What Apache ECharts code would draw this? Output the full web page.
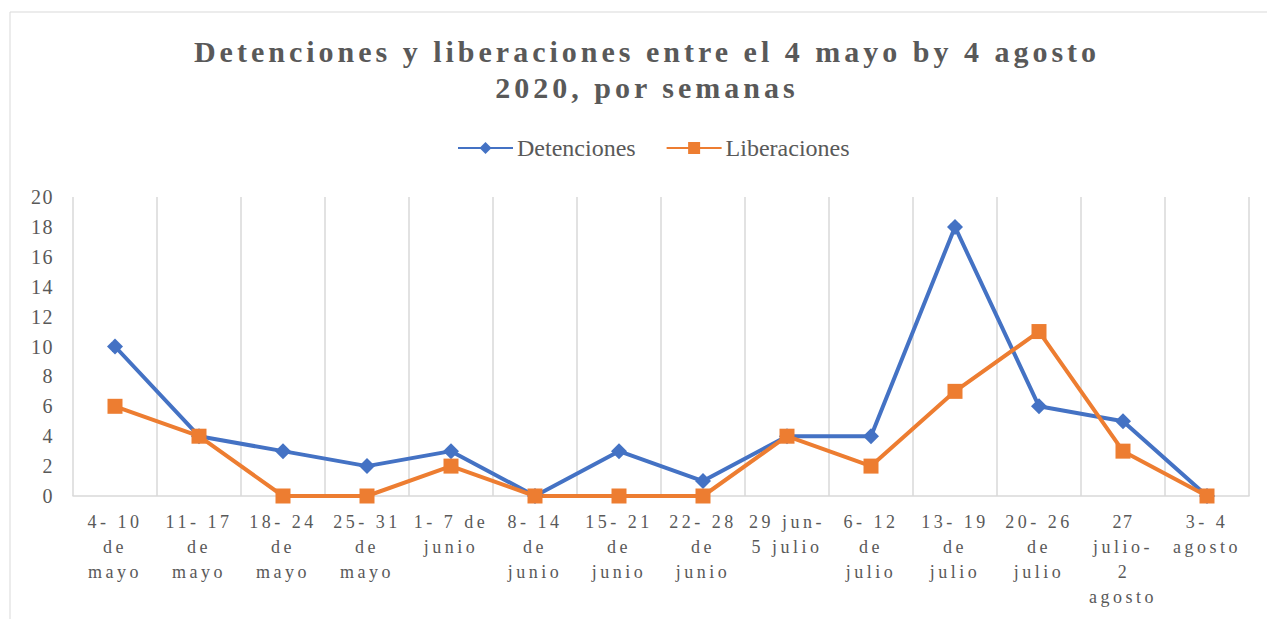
<!DOCTYPE html>
<html>
<head>
<meta charset="utf-8">
<script src="https://cdn.jsdelivr.net/npm/echarts@6/dist/echarts.min.js"></script>
<style>
html, body { margin: 0; padding: 0; background: #fff; }
#chart { width: 1267px; height: 619px; }
#chart text { letter-spacing: 3.5px; }
#chart text.ttl { letter-spacing: 4px; }
#chart text.lgd { letter-spacing: 0; }
#chart text.num { letter-spacing: 1.5px; }
</style>
</head>
<body>
<div id="chart"></div>
<script>
var semanas = ['4- 10\nde\nmayo', '11- 17\nde\nmayo', '18- 24\nde\nmayo', '25- 31\nde\nmayo',
    '1- 7 de\njunio', '8- 14\nde\njunio', '15- 21\nde\njunio', '22- 28\nde\njunio',
    '29 jun-\n5 julio', '6- 12\nde\njulio', '13- 19\nde\njulio', '20- 26\nde\njulio',
    '27\njulio-\n2\nagosto', '3- 4\nagosto'];
var detenciones = [10, 4, 3, 2, 3, 0, 3, 1, 4, 4, 18, 6, 5, 0];
var liberaciones = [6, 4, 0, 0, 2, 0, 0, 0, 4, 2, 7, 11, 3, 0];

var myChart = echarts.init(document.getElementById('chart'), null, { renderer: 'svg' });

var serif = 'Liberation Serif, serif';

var option = {
    backgroundColor: '#fff',
    color: ['#4472C4', '#ED7D31'],
    graphic: [{
        type: 'rect',
        shape: { x: 10, y: 12, width: 1275, height: 620 },
        style: { fill: 'none', stroke: '#d9d9d9', lineWidth: 1 },
        silent: true
    }],
    title: {
        text: 'Detenciones y liberaciones entre el 4 mayo by 4 agosto\n2020, por semanas',
        left: 642,
        textAlign: 'center',
        top: 28,
        textStyle: {
            fontFamily: serif,
            fontSize: 30,
            fontWeight: 'bold',
            color: '#595959',
            lineHeight: 36
        }
    },
    legend: {
        top: 131,
        left: 452,
        itemWidth: 55,
        itemHeight: 15,
        itemGap: 30,
        textStyle: {
            fontFamily: serif,
            fontSize: 24,
            color: '#595959',
            padding: [0, 0, 0, -1]
        },
        data: ['Detenciones', 'Liberaciones']
    },
    grid: {
        left: 73,
        right: 18,
        top: 197,
        bottom: 123
    },
    xAxis: {
        type: 'category',
        data: semanas,
        boundaryGap: true,
        axisLine: { lineStyle: { color: '#d9d9d9', width: 1.5 } },
        axisTick: { show: false },
        splitLine: { show: true, lineStyle: { color: '#d9d9d9', width: 1.5 } },
        axisLabel: {
            interval: 0,
            fontFamily: serif,
            fontSize: 18,
            color: '#595959',
            lineHeight: 25,
            margin: 13
        }
    },
    yAxis: {
        type: 'value',
        min: 0,
        max: 20,
        interval: 2,
        axisLine: { show: false },
        axisTick: { show: false },
        splitLine: { show: false },
        axisLabel: {
            fontFamily: serif,
            fontSize: 20,
            color: '#595959',
            margin: 19
        }
    },
    series: [{
        name: 'Detenciones',
        type: 'line',
        data: detenciones,
        symbol: 'diamond',
        symbolSize: 16,
        lineStyle: { width: 4 },
        itemStyle: { color: '#4472C4' }
    }, {
        name: 'Liberaciones',
        type: 'line',
        data: liberaciones,
        symbol: 'rect',
        symbolSize: 15,
        lineStyle: { width: 4 },
        itemStyle: { color: '#ED7D31' }
    }]
};
myChart.setOption(option);

// spacing differs by text role
var txt = document.querySelectorAll('#chart text');
for (var i = 0; i < txt.length; i++) {
    var s = txt[i].textContent;
    if (s.indexOf('Detenciones y') === 0 || s.indexOf('2020') === 0) {
        txt[i].setAttribute('class', 'ttl');
    } else if (s === 'Detenciones' || s === 'Liberaciones') {
        txt[i].setAttribute('class', 'lgd');
    } else if (/^\d+$/.test(s)) {
        txt[i].setAttribute('class', 'num');
    }
}
</script>
</body>
</html>
